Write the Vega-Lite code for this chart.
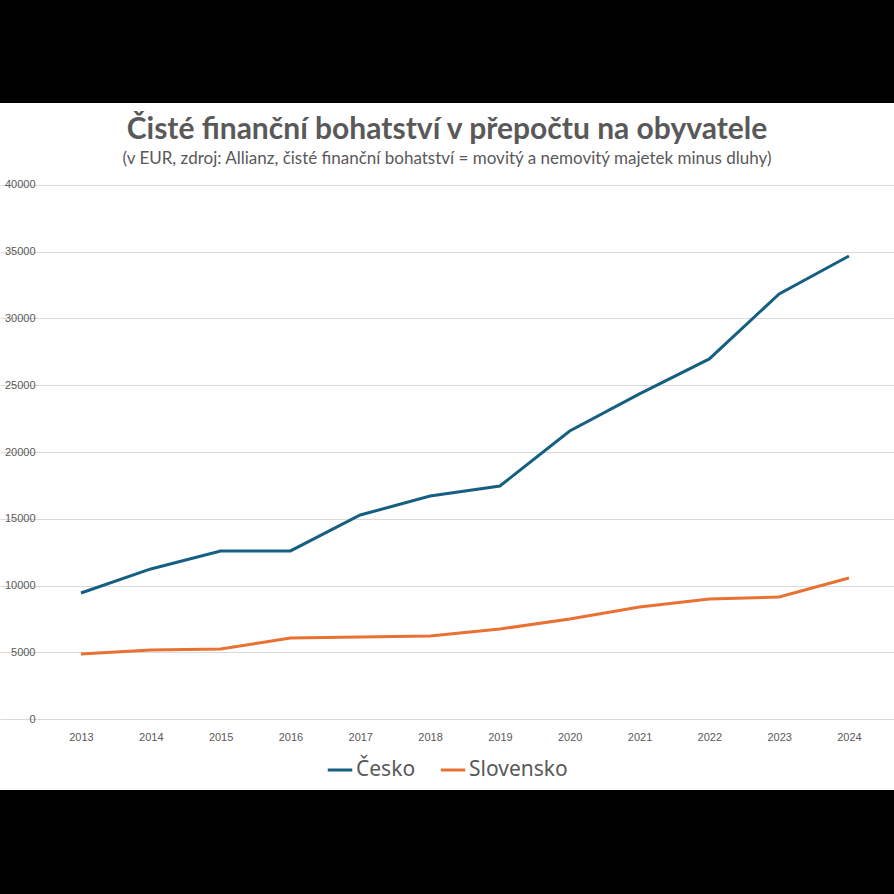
{
  "$schema": "https://vega.github.io/schema/vega-lite/v6.json",
  "width": 894,
  "height": 687,
  "autosize": {"type": "none"},
  "padding": {"top": 103, "bottom": 104, "left": 0, "right": 0},
  "background": "black",
  "config": {
    "view": {"fill": "white", "stroke": null},
    "font": "Liberation Sans",
    "legend": {"layout": {"bottom": {"anchor": "middle"}}}
  },
  "title": {
    "text": "Čisté finanční bohatství v přepočtu na obyvatele",
    "subtitle": "(v EUR, zdroj: Allianz, čisté finanční bohatství = movitý a nemovitý majetek minus dluhy)",
    "anchor": "middle",
    "orient": "top",
    "offset": -64,
    "font": "Lato",
    "fontSize": 30,
    "fontWeight": "bold",
    "color": "#595959",
    "subtitleFont": "Lato",
    "subtitleFontSize": 17,
    "subtitleColor": "#595959",
    "subtitlePadding": 6
  },
  "data": {
    "values": [
      {"rok": 2013, "zeme": "Česko", "hodnota": 9440},
      {"rok": 2014, "zeme": "Česko", "hodnota": 11240},
      {"rok": 2015, "zeme": "Česko", "hodnota": 12590},
      {"rok": 2016, "zeme": "Česko", "hodnota": 12590},
      {"rok": 2017, "zeme": "Česko", "hodnota": 15280},
      {"rok": 2018, "zeme": "Česko", "hodnota": 16700},
      {"rok": 2019, "zeme": "Česko", "hodnota": 17450},
      {"rok": 2020, "zeme": "Česko", "hodnota": 21570},
      {"rok": 2021, "zeme": "Česko", "hodnota": 24350},
      {"rok": 2022, "zeme": "Česko", "hodnota": 26970},
      {"rok": 2023, "zeme": "Česko", "hodnota": 31840},
      {"rok": 2024, "zeme": "Česko", "hodnota": 34680},
      {"rok": 2013, "zeme": "Slovensko", "hodnota": 4870},
      {"rok": 2014, "zeme": "Slovensko", "hodnota": 5170},
      {"rok": 2015, "zeme": "Slovensko", "hodnota": 5240},
      {"rok": 2016, "zeme": "Slovensko", "hodnota": 6070},
      {"rok": 2017, "zeme": "Slovensko", "hodnota": 6140},
      {"rok": 2018, "zeme": "Slovensko", "hodnota": 6220},
      {"rok": 2019, "zeme": "Slovensko", "hodnota": 6740},
      {"rok": 2020, "zeme": "Slovensko", "hodnota": 7490},
      {"rok": 2021, "zeme": "Slovensko", "hodnota": 8390},
      {"rok": 2022, "zeme": "Slovensko", "hodnota": 8990},
      {"rok": 2023, "zeme": "Slovensko", "hodnota": 9140},
      {"rok": 2024, "zeme": "Slovensko", "hodnota": 10560}
    ]
  },
  "mark": {"type": "line", "strokeWidth": 3, "strokeCap": "butt"},
  "encoding": {
    "x": {
      "field": "rok",
      "type": "quantitative",
      "scale": {"domain": [2011.84, 2024.645], "nice": false, "zero": false},
      "axis": {
        "title": null,
        "values": [2013, 2014, 2015, 2016, 2017, 2018, 2019, 2020, 2021, 2022, 2023, 2024],
        "format": "d",
        "grid": false,
        "domain": false,
        "ticks": false,
        "offset": -71,
        "labelPadding": 12,
        "labelFontSize": 11,
        "labelColor": "#595959",
        "labelFont": "Liberation Sans"
      }
    },
    "y": {
      "field": "hodnota",
      "type": "quantitative",
      "scale": {"domain": [-5318, 46142], "nice": false, "zero": false},
      "axis": {
        "title": null,
        "values": [0, 5000, 10000, 15000, 20000, 25000, 30000, 35000, 40000],
        "format": "d",
        "grid": true,
        "gridColor": "#d9d9d9",
        "gridWidth": 1,
        "domain": false,
        "ticks": false,
        "offset": -46,
        "labelPadding": 11,
        "labelFontSize": 11,
        "labelColor": "#595959",
        "labelFont": "Liberation Sans"
      }
    },
    "color": {
      "field": "zeme",
      "type": "nominal",
      "scale": {"domain": ["Česko", "Slovensko"], "range": ["#156082", "#E97132"]},
      "legend": {
        "title": null,
        "orient": "bottom",
        "direction": "horizontal",
        "offset": -34,
        "symbolType": "stroke",
        "symbolStrokeWidth": 3,
        "symbolSize": 600,
        "symbolOffset": 0,
        "labelOffset": 2,
        "labelFontSize": 21,
        "labelFont": "Noto Sans",
        "labelColor": "#595959",
        "columnPadding": 18
      }
    }
  }
}
